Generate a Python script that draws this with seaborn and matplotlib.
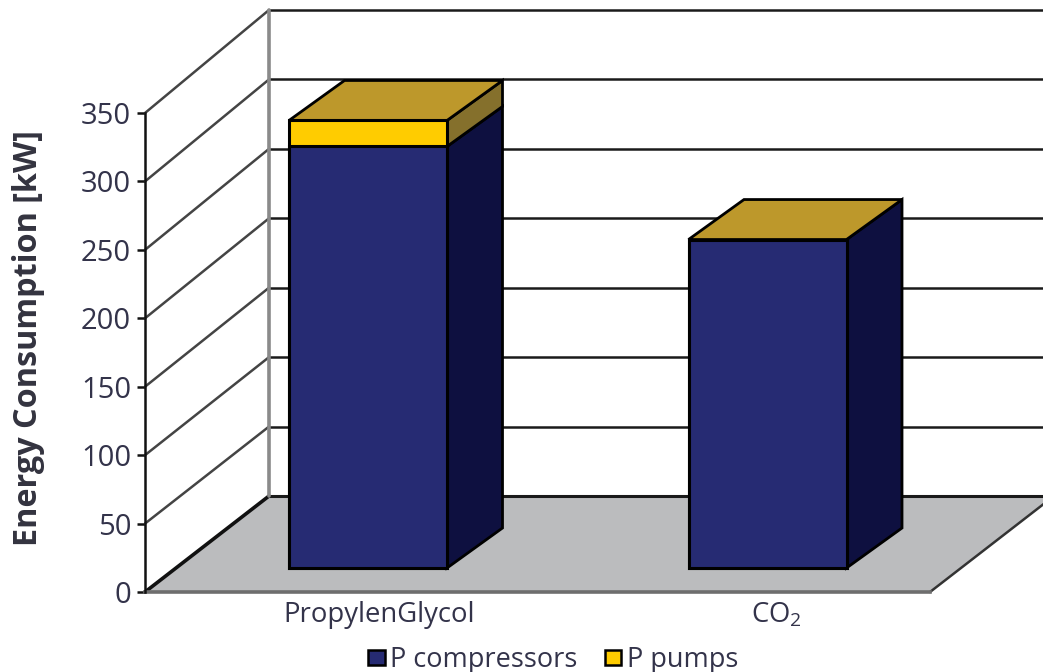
import matplotlib
matplotlib.use("Agg")
import matplotlib.pyplot as plt
import numpy as np
import seaborn as sns
from matplotlib.patches import Patch, Polygon
from matplotlib.transforms import Affine2D

# Data
categories = ["PropylenGlycol", "CO$_2$"]
p_compressors = [308, 240]
p_pumps = [19, 0]
y_ticks = [0, 50, 100, 150, 200, 250, 300, 350]

NAVY, NAVY_SIDE = "#262B73", "#0E1040"
YELLOW, YELLOW_SIDE = "#FFCC00", "#85702C"
TOP_FACE = "#BD982B"
FLOOR = "#BBBCBE"
TEXT = "#33334A"

sns.set_theme(style="white")
plt.rcParams["font.family"] = ["Open Sans", "DejaVu Sans"]
plt.rcParams["mathtext.default"] = "regular"

W, H = 1043, 672
fig = plt.figure(figsize=(W / 100, H / 100), dpi=100)
# Front plane of the box: x 145-930 px, y 592-113 px
ax = fig.add_axes([145 / W, 1 - 592 / H, (930 - 145) / W, (592 - 113) / H])

px_x = 399.5           # pixels per category step
px_y = 479 / 350       # pixels per kW

# Front faces: the stack total first, the compressor share over it
totals = np.add(p_compressors, p_pumps)
sns.barplot(x=categories, y=totals, color=YELLOW, saturation=1, width=158 / px_x,
            edgecolor="black", linewidth=2.2, ax=ax, zorder=4)
sns.barplot(x=categories, y=p_compressors, color=NAVY, saturation=1, width=158 / px_x,
            edgecolor="black", linewidth=2.2, ax=ax, zorder=5)
front_bars = list(ax.patches)

ax.set_xlim(-192 / px_x, 593 / px_x)
ax.set_ylim(0, 350)

# Oblique depth vectors, in data units
depth_x, depth_y = 124 / px_x, 96 / px_y
wall_stretch = 486 / 479
bar_shift = (31 / px_x, 24 / px_y)
bar_depth = (55.5 / px_x, 40 / px_y)

shift = Affine2D().translate(*bar_shift)
for bar in front_bars:
    bar.set_transform(shift + ax.transData)
    bar.set_clip_on(False)

# Floor and back wall
x0, x1 = ax.get_xlim()
ax.add_patch(Polygon([(x0, 0), (x1, 0), (x1 + depth_x, depth_y), (x0 + depth_x, depth_y)],
                     closed=True, fc=FLOOR, ec="none", clip_on=False, zorder=1))
for v in y_ticks:
    wall_y = v * wall_stretch + depth_y
    ax.plot([x0 + depth_x, x1 + 2 * depth_x], [wall_y, wall_y], color="#1A1A1A",
            lw=2.2 if v == 0 else 1.8, clip_on=False, zorder=2, solid_capstyle="butt")
    ax.plot([x0, x0 + depth_x], [v, wall_y], color="#111111" if v == 0 else "#444444",
            lw=2.6 if v == 0 else 1.8, clip_on=False, zorder=2)
ax.plot([x0 + depth_x] * 2, [depth_y, 350 * wall_stretch + depth_y], color="#8A8A8A",
        lw=2.6, clip_on=False, zorder=2)
ax.plot([x1, x1 + depth_x], [0, depth_y], color="#333333", lw=1.8, clip_on=False, zorder=2)


def face(points, color):
    ax.add_patch(Polygon(points, closed=True, fc=color, ec="black", lw=2.0, joinstyle="miter",
                         clip_on=False, zorder=3.5))


dx, dy = bar_depth
sx, sy = bar_shift
half = 79 / px_x
for i, (comp, pump) in enumerate(zip(p_compressors, p_pumps)):
    left, right = i - half + sx, i + half + sx
    base, mid, top = sy, comp + sy, comp + pump + sy
    face([(right, base), (right + dx, base + dy), (right + dx, mid + dy), (right, mid)], NAVY_SIDE)
    if pump:
        face([(right, mid), (right + dx, mid + dy), (right + dx, top + dy), (right, top)], YELLOW_SIDE)
    face([(left, top), (right, top), (right + dx, top + dy), (left + dx, top + dy)], TOP_FACE)

# Axes dressing
sns.despine(ax=ax, top=True, right=True)
ax.spines["left"].set_color("#111111")
ax.spines["left"].set_linewidth(1.8)
ax.spines["left"].set_zorder(6)
ax.spines["bottom"].set_color("#6E6E6E")
ax.spines["bottom"].set_linewidth(2.6)
ax.patch.set_alpha(0)
ax.set_yticks(y_ticks)
ax.tick_params(axis="y", length=6, width=1.8, color="#111111", labelsize=21,
               labelcolor=TEXT, pad=4, left=True)
label_offset = np.array([42, 39.5]) / px_x
ax.set_xticks([0, 1] + label_offset, labels=categories)
ax.tick_params(axis="x", length=0, labelsize=19.8, labelcolor=TEXT, pad=6.5)
ax.set_ylabel("Energy Consumption [kW]", fontsize=23.3, fontweight="bold", color="#33333F")
ax.yaxis.set_label_coords((45 - 145) / (930 - 145), (592 - 338) / 479)

handles = [Patch(fc=NAVY, ec="black", lw=1.8, label="P compressors"),
           Patch(fc=YELLOW, ec="black", lw=1.8, label="P pumps")]
fig.legend(handles=handles, ncol=2, frameon=False, fontsize=19.5, labelcolor=TEXT,
           loc="center", bbox_to_anchor=(553 / W, 1 - 660 / H),
           handlelength=0.62, handleheight=0.5, handletextpad=0.2, columnspacing=1.0)

fig.savefig("out.png", dpi=100)
